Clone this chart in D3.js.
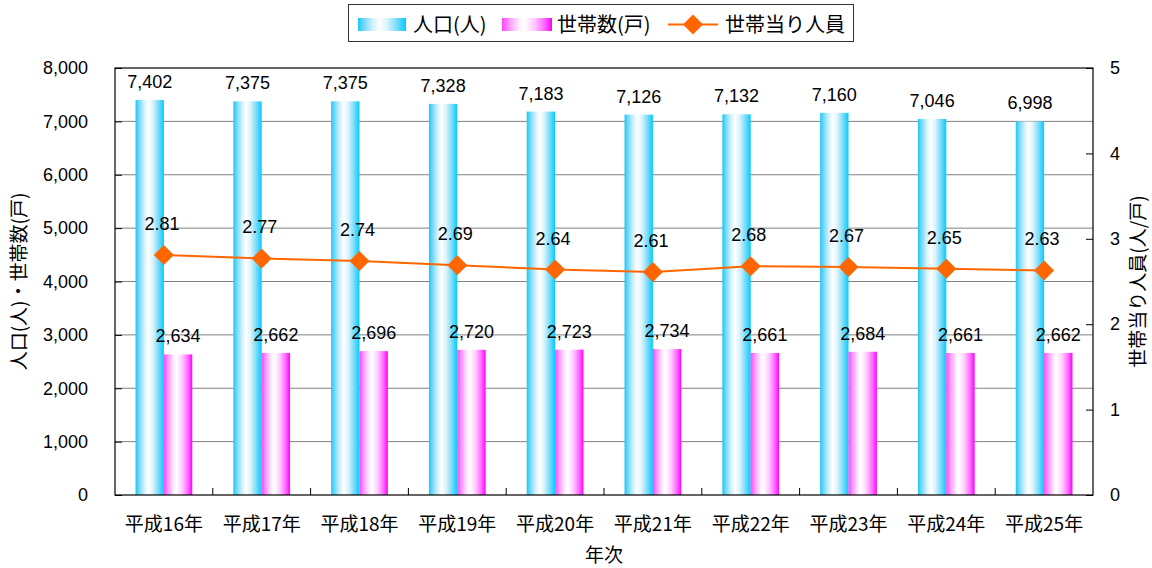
<!DOCTYPE html>
<html>
<head>
<meta charset="utf-8">
<script src="https://cdn.jsdelivr.net/npm/d3@7"></script>
<style>
html,body{margin:0;padding:0;background:#fff;}
svg{display:block;}
</style>
</head>
<body>
<svg id="chart" width="1152" height="568"></svg>
<script>
const categories = ["平成16年","平成17年","平成18年","平成19年","平成20年","平成21年","平成22年","平成23年","平成24年","平成25年"];
const population = [7402,7375,7375,7328,7183,7126,7132,7160,7046,6998];
const households = [2634,2662,2696,2720,2723,2734,2661,2684,2661,2662];
const perHousehold = [2.81,2.77,2.74,2.69,2.64,2.61,2.68,2.67,2.65,2.63];
const leftTicks = [0,1000,2000,3000,4000,5000,6000,7000,8000];
const rightTicks = [0,1,2,3,4,5];
const seriesNames = ["人口(人)","世帯数(戸)","世帯当り人員"];
const leftTitle = "人口(人)・世帯数(戸)";
const rightTitle = "世帯当り人員(人/戸)";
const xTitle = "年次";

const svg = d3.select("#chart");
const L = 115, R = 1093, T = 68, B = 495;
const numFont = "'Liberation Sans', Arial, sans-serif";
const jpFont = "'Noto Sans CJK JP', sans-serif";

const defs = svg.append("defs");
function grad(id, stops){
  const g = defs.append("linearGradient").attr("id", id).attr("x1","0").attr("x2","1").attr("y1","0").attr("y2","0");
  stops.forEach(s => g.append("stop").attr("offset", s[0]).attr("stop-color", s[1]));
}
grad("gCyan", [[0,"#19C8F5"],[0.12,"#6FD8F8"],[0.3,"#CFF0FC"],[0.45,"#FFFFFF"],[0.6,"#DDF4FD"],[0.8,"#7FDCF8"],[1,"#00CCFF"]]);
grad("gMag", [[0,"#FF44FF"],[0.15,"#FF99FF"],[0.35,"#FFF0FF"],[0.45,"#FFFFFF"],[0.65,"#FFC8FF"],[0.85,"#FF66FF"],[1,"#FF00FF"]]);

const x = d3.scaleBand().domain(categories).range([L, R]);
const yL = d3.scaleLinear().domain([0, 8000]).range([B, T]);
const yR = d3.scaleLinear().domain([0, 5]).range([B, T]);
const bw = x.bandwidth() * 0.29;

// gridlines
svg.append("g").selectAll("line").data(leftTicks.filter(t => t > 0 && t < 8000)).join("line")
  .attr("x1", L).attr("x2", R).attr("y1", d => yL(d)).attr("y2", d => yL(d))
  .attr("stroke", "#808080").attr("stroke-width", 1);

// bars
const cx = c => x(c) + x.bandwidth() / 2;
svg.append("g").selectAll("rect").data(categories).join("rect")
  .attr("x", c => cx(c) - bw).attr("width", bw)
  .attr("y", (c, i) => yL(population[i])).attr("height", (c, i) => B - yL(population[i]))
  .attr("fill", "url(#gCyan)");
svg.append("g").selectAll("rect").data(categories).join("rect")
  .attr("x", c => cx(c)).attr("width", bw)
  .attr("y", (c, i) => yL(households[i])).attr("height", (c, i) => B - yL(households[i]))
  .attr("fill", "url(#gMag)");

// plot frame
svg.append("rect").attr("x", L).attr("y", T).attr("width", R - L).attr("height", B - T)
  .attr("fill", "none").attr("stroke", "#000").attr("stroke-width", 1.2);

// left axis
const axL = svg.append("g").attr("transform", `translate(${L},0)`)
  .call(d3.axisLeft(yL).tickValues(leftTicks).tickSize(-7).tickPadding(27).tickFormat(d3.format(",")));
axL.select(".domain").remove();
axL.selectAll("line").attr("stroke", "#000");
axL.selectAll("text").attr("font-family", numFont).attr("font-size", 18).attr("fill", "#000");

// right axis
const axR = svg.append("g").attr("transform", `translate(${R},0)`)
  .call(d3.axisRight(yR).tickValues(rightTicks).tickSize(-7).tickPadding(17).tickFormat(d3.format("d")));
axR.select(".domain").remove();
axR.selectAll("line").attr("stroke", "#000");
axR.selectAll("text").attr("font-family", numFont).attr("font-size", 18).attr("fill", "#000");

// bottom axis
const axB = svg.append("g").attr("transform", `translate(0,${B})`)
  .call(d3.axisBottom(x).tickSize(0).tickPadding(23));
axB.select(".domain").remove();
axB.selectAll("text").attr("font-family", jpFont).attr("font-size", 19).attr("fill", "#000");
svg.append("g").selectAll("line").data(categories.slice(1)).join("line")
  .attr("x1", c => x(c)).attr("x2", c => x(c)).attr("y1", B).attr("y2", B - 7)
  .attr("stroke", "#000");

// line series
const line = d3.line().x((d, i) => cx(categories[i])).y(d => yR(d));
svg.append("path").datum(perHousehold).attr("d", line)
  .attr("fill", "none").attr("stroke", "#FF6600").attr("stroke-width", 2);
const diamond = d3.symbol().type(d3.symbolSquare).size(200);
svg.append("g").selectAll("path").data(perHousehold).join("path")
  .attr("d", diamond)
  .attr("transform", (d, i) => `translate(${cx(categories[i])},${yR(d)}) rotate(45)`)
  .attr("fill", "#FF6600");

// value labels
svg.append("g").selectAll("text").data(population).join("text")
  .attr("x", (d, i) => cx(categories[i]) - bw / 2).attr("y", d => yL(d) - 12)
  .attr("text-anchor", "middle").attr("font-family", numFont).attr("font-size", 18)
  .text(d => d3.format(",")(d));
svg.append("g").selectAll("text").data(households).join("text")
  .attr("x", (d, i) => cx(categories[i]) + bw / 2).attr("y", d => yL(d) - 12)
  .attr("text-anchor", "middle").attr("font-family", numFont).attr("font-size", 18)
  .text(d => d3.format(",")(d));
svg.append("g").selectAll("text").data(perHousehold).join("text")
  .attr("x", (d, i) => cx(categories[i]) - 2).attr("y", d => yR(d) - 25)
  .attr("text-anchor", "middle").attr("font-family", numFont).attr("font-size", 18)
  .text(d => d3.format(".2f")(d));

// axis titles
svg.append("text").attr("transform", `translate(26,${(T + B) / 2}) rotate(-90)`)
  .attr("text-anchor", "middle").attr("font-family", jpFont).attr("font-size", 19).text(leftTitle);
svg.append("text").attr("transform", `translate(1145,${(T + B) / 2}) rotate(-90)`)
  .attr("text-anchor", "middle").attr("font-family", jpFont).attr("font-size", 19).text(rightTitle);
svg.append("text").attr("x", (L + R) / 2).attr("y", 562)
  .attr("text-anchor", "middle").attr("font-family", jpFont).attr("font-size", 19).text(xTitle);

// legend
const lg = svg.append("g");
lg.append("rect").attr("x", 348.5).attr("y", 4.5).attr("width", 505).attr("height", 37)
  .attr("fill", "#fff").attr("stroke", "#333").attr("stroke-width", 1);
lg.append("rect").attr("x", 358).attr("y", 18).attr("width", 48).attr("height", 13).attr("fill", "url(#gCyan)");
lg.append("rect").attr("x", 502).attr("y", 18).attr("width", 50).attr("height", 13).attr("fill", "url(#gMag)");
lg.append("line").attr("x1", 668).attr("x2", 718).attr("y1", 24.5).attr("y2", 24.5).attr("stroke", "#FF6600").attr("stroke-width", 2);
lg.append("path").attr("d", diamond).attr("transform", "translate(693,24.5) rotate(45)").attr("fill", "#FF6600");
const legX = [413, 557, 725];
lg.selectAll("text.lt").data(seriesNames).join("text").attr("class", "lt")
  .attr("x", (d, i) => legX[i]).attr("y", 31.5)
  .attr("font-family", jpFont).attr("font-size", 20).text(d => d);
</script>
</body>
</html>
